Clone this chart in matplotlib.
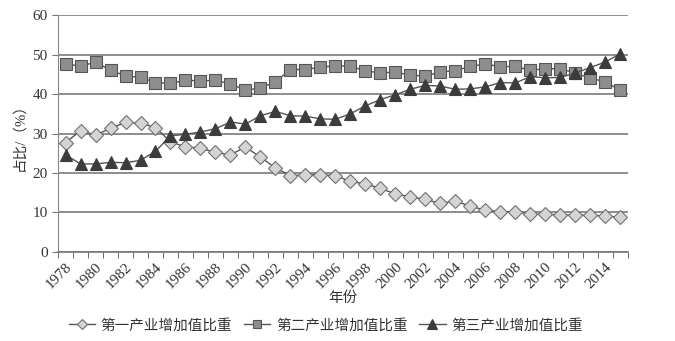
import numpy as np
import matplotlib
matplotlib.use('Agg')
import matplotlib.pyplot as plt

plt.rcParams['font.family'] = ['Liberation Serif', 'Noto Sans CJK SC']

years = list(range(1978, 2016))
primary = [27.7, 30.7, 29.6, 31.3, 32.8, 32.6, 31.5, 27.9, 26.6, 26.3, 25.2, 24.6, 26.6,
           24.0, 21.3, 19.3, 19.5, 19.6, 19.3, 17.9, 17.2, 16.1, 14.7, 14.0, 13.3, 12.3,
           12.9, 11.6, 10.6, 10.2, 10.2, 9.6, 9.5, 9.4, 9.4, 9.3, 9.1, 8.8]
secondary = [47.7, 47.0, 48.1, 46.0, 44.6, 44.2, 42.9, 42.7, 43.5, 43.3, 43.5, 42.5, 41.0,
             41.5, 43.1, 46.2, 46.2, 46.8, 47.1, 47.1, 45.8, 45.4, 45.5, 44.8, 44.5, 45.6,
             45.9, 47.0, 47.6, 46.9, 47.0, 46.0, 46.4, 46.4, 45.3, 44.0, 43.1, 40.9]
tertiary = [24.6, 22.3, 22.3, 22.7, 22.6, 23.2, 25.5, 29.4, 29.8, 30.4, 31.2, 32.9, 32.4,
            34.5, 35.6, 34.5, 34.4, 33.7, 33.6, 35.0, 37.0, 38.6, 39.8, 41.2, 42.2, 42.0,
            41.2, 41.3, 41.8, 42.9, 42.8, 44.4, 44.1, 44.2, 45.3, 46.7, 48.1, 50.2]
labels = ['第一产业增加值比重', '第二产业增加值比重', '第三产业增加值比重']

fig = plt.figure(figsize=(6.75, 3.41), dpi=100)
ax = fig.add_axes([0.086, 0.261, 0.844, 0.695])

x = np.arange(len(years))
line_c = '#555555'
ax.plot(x, primary, color=line_c, lw=1, marker='D', ms=7, mfc='#d4d4d4', mec='#707070',
        mew=0.8, label=labels[0], zorder=3)
ax.plot(x, secondary, color=line_c, lw=1, marker='s', ms=8, mfc='#8e8e8e', mec='#555555',
        mew=0.8, label=labels[1], zorder=3)
ax.plot(x, tertiary, color=line_c, lw=1, marker='^', ms=9, mfc='#3c3c3c', mec='#3c3c3c',
        mew=0.8, label=labels[2], zorder=4)

ax.set_xlim(-0.5, len(years) - 0.5)
ax.set_ylim(0, 60)
ax.set_yticks(range(0, 61, 10))
ax.yaxis.grid(True, color='#7a7a7a', lw=1.2)
ax.set_axisbelow(True)

ax.set_xticks(x[::2])
ax.set_xticklabels([str(y) for y in years[::2]], rotation=45, ha='right',
                   rotation_mode='anchor', fontsize=11, color='#333333')
ax.set_xticks(np.arange(-0.5, len(years), 1), minor=True)
ax.tick_params(axis='x', which='major', length=0, pad=6)
ax.tick_params(axis='x', which='minor', length=4, color='#555555')
ax.tick_params(axis='y', length=4, color='#777777', labelsize=11, labelcolor='#333333')

for s in ['top', 'right']:
    ax.spines[s].set_visible(False)
ax.spines['left'].set_color('#888888')
ax.spines['bottom'].set_color('#777777')
ax.spines['bottom'].set_linewidth(1.2)

ax.set_xlabel('年份', fontsize=10.5, color='#333333', labelpad=0)
ax.set_ylabel('占比/（%）', fontsize=10.5, color='#333333', labelpad=4)

ax.legend(loc='upper center', bbox_to_anchor=(0.47, -0.225), ncol=3, frameon=False,
          fontsize=10.5, handlelength=1.8, columnspacing=0.8, handletextpad=0.4,
          markerscale=0.8, labelcolor='#333333')

fig.savefig('out.png', dpi=100)
